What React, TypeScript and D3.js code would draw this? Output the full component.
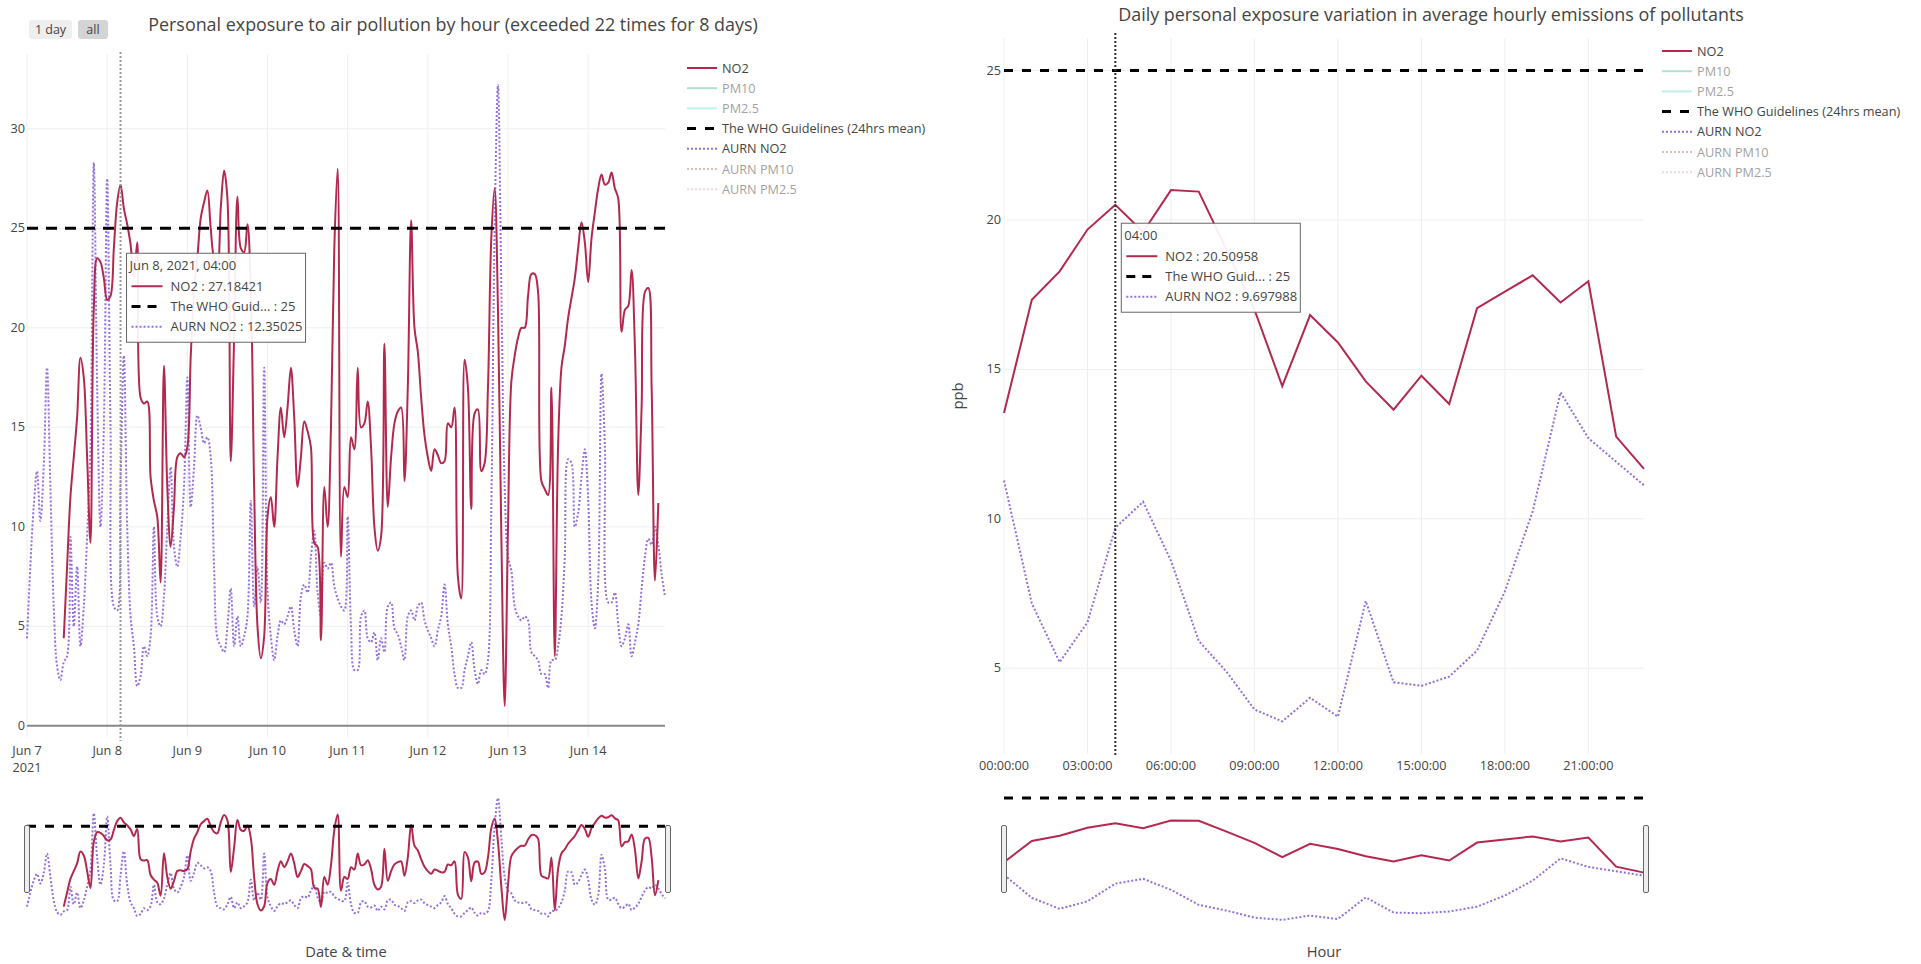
import React from 'react';
import * as d3 from 'd3';

const FONT = '"Open Sans", "DejaVu Sans", sans-serif';
const TXT = '#444';
const FS_TICK = 12.7;
const FS_LEG = 12.7;
const FS_TITLE = 17.9;
const FS_AXIS = 14.7;
const FS_HOVER = 13;

// ---------------- DATA ----------------
const startTime = new Date(2021, 5, 7, 0, 0);
const hoursLeft = d3.range(192).map((h) => d3.timeHour.offset(startTime, h));

// Personal NO2 exposure, hourly (ppb), Jun 7 00:00 .. Jun 14 23:00
const personalNO2: (number | null)[] = [
  null, null, null, null, null, null, null, null, null, null, null, 4.4,
  8.0, 11.5, 13.5, 15.5, 18.5, 17.5, 13.5, 9.2, 21.0, 23.5, 23.3, 22.5,
  21.4, 21.6, 24.0, 26.3, 27.18421, 26.0, 25.2, 24.2, 22.5, 24.3, 16.5, 16.2,
  16.3, 12.5, 11.3, 10.5, 7.2, 18.1, 12.0, 9.0, 11.0, 13.5, 13.7, 13.5,
  14.0, 18.5, 21.8, 23.5, 25.5, 26.3, 26.9, 25.0, 23.5, 23.2, 26.0, 27.9,
  26.5, 13.3, 19.5, 26.6, 24.0, 23.8, 25.2, 22.0, 12.0, 5.0, 3.4, 4.5,
  10.5, 11.5, 10.0, 13.5, 16.0, 14.5, 16.0, 18.0, 15.5, 12.0, 13.5, 15.3,
  14.8, 14.0, 9.2, 9.0, 4.3, 12.0, 10.0, 15.0, 24.0, 28.0, 8.5, 12.0,
  11.5, 14.5, 13.9, 18.0, 15.0, 15.2, 16.3, 14.0, 10.0, 8.8, 9.5, 19.2,
  11.0, 13.5, 15.2, 15.8, 16.0, 12.3, 17.0, 25.4, 20.0, 18.8, 16.5, 14.6,
  13.5, 12.8, 13.9, 13.6, 13.2, 13.3, 15.2, 15.0, 16.0, 7.5, 6.4, 18.4,
  17.0, 10.9, 15.7, 15.9, 12.8, 13.2, 17.0, 24.5, 27.0, 20.9, 9.6, 1.0,
  10.0, 17.3, 18.6, 19.5, 20.0, 20.0, 21.6, 22.7, 22.7, 21.8, 12.3, 11.9,
  11.6, 17.0, 3.5, 14.1, 18.0, 19.1, 20.5, 21.5, 22.5, 24.0, 25.3, 24.3,
  22.3, 24.5, 25.8, 27.0, 27.7, 27.2, 27.3, 27.8, 27.0, 26.5, 19.8, 20.9,
  21.1, 22.9, 19.0, 11.6, 16.0, 21.8, 22.0, 17.0, 7.3, 11.2, null, null,
];

// AURN station NO2, hourly (ppb)
const aurnNO2: (number | null)[] = [
  4.4, 8.0, 11.0, 12.8, 10.3, 13.0, 18.0, 12.0, 6.0, 3.0, 2.3, 3.2,
  3.5, 9.5, 5.0, 8.0, 4.0, 6.0, 9.5, 14.0, 28.3, 17.0, 10.0, 15.0,
  27.5, 15.0, 6.0, 5.8, 12.35025, 18.6, 10.0, 5.5, 4.0, 2.0, 2.5, 4.0,
  3.5, 4.5, 10.0, 5.5, 5.0, 6.5, 10.0, 13.0, 9.0, 8.0, 9.5, 12.0,
  17.5, 11.0, 13.0, 15.6, 15.0, 14.2, 14.5, 13.5, 8.0, 4.4, 4.0, 3.7,
  5.0, 6.9, 4.0, 5.5, 4.0, 4.5, 5.5, 11.3, 6.0, 8.0, 6.2, 18.0,
  6.8, 4.5, 3.3, 4.5, 5.3, 5.1, 5.5, 6.0, 4.8, 4.0, 6.5, 7.1,
  6.7, 8.5, 9.8, 6.7, 5.5, 8.2, 7.9, 8.2, 7.0, 6.4, 6.0, 5.8,
  10.5, 5.0, 2.8, 2.8, 5.5, 5.8, 4.4, 4.2, 4.7, 3.3, 4.4, 3.7,
  6.0, 6.2, 4.9, 4.6, 4.0, 3.3, 5.5, 5.8, 5.3, 6.0, 6.2, 5.3,
  4.8, 4.4, 4.0, 4.8, 5.5, 7.1, 5.1, 4.0, 2.6, 1.9, 1.9, 2.8,
  3.5, 4.2, 2.8, 2.1, 2.8, 2.6, 3.3, 11.0, 25.0, 32.2, 22.0, 12.0,
  8.5, 7.8, 6.0, 5.5, 5.3, 5.5, 5.3, 3.7, 3.5, 3.3, 2.6, 2.6,
  1.9, 3.3, 3.3, 4.0, 5.5, 8.5, 13.4, 13.2, 10.0, 10.7, 12.5, 13.9,
  11.4, 6.2, 4.9, 7.3, 17.7, 14.1, 6.2, 6.2, 6.7, 5.1, 4.0, 4.4,
  5.1, 3.5, 4.2, 5.1, 6.9, 8.5, 9.4, 9.1, 10.0, 9.1, 7.6, 6.5,
];

const whoGuideline = 25;

const leftDayTicks = d3.range(8).map((d) => d3.timeDay.offset(startTime, d));
const leftDayLabels = ['Jun 7', 'Jun 8', 'Jun 9', 'Jun 10', 'Jun 11', 'Jun 12', 'Jun 13', 'Jun 14'];
const leftYTicks = [0, 5, 10, 15, 20, 25, 30];

// Daily profile (average per hour of day)
const dailyHours = d3.range(24);
const dailyNO2 = [
  13.54, 17.33, 18.28, 19.68, 20.50958, 19.6, 21.0, 20.95, 19.0, 17.0, 14.44, 16.82,
  15.9, 14.6, 13.65, 14.79, 13.84, 17.05, 17.6, 18.15, 17.24, 17.95, 12.75, 11.67,
];
const dailyAurnNO2 = [
  11.28, 7.17, 5.2, 6.54, 9.697988, 10.57, 8.6, 5.91, 4.88, 3.62, 3.22, 4.01,
  3.38, 7.25, 4.53, 4.41, 4.72, 5.59, 7.57, 10.25, 14.23, 12.7, 11.91, 11.12,
];
const rightXTicks = [0, 3, 6, 9, 12, 15, 18, 21];
const rightXTickLabels = ['00:00:00', '03:00:00', '06:00:00', '09:00:00', '12:00:00', '15:00:00', '18:00:00', '21:00:00'];
const rightYTicks = [5, 10, 15, 20, 25];

const legendNames = ['NO2', 'PM10', 'PM2.5', 'The WHO Guidelines (24hrs mean)', 'AURN NO2', 'AURN PM10', 'AURN PM2.5'];
const legendColors = ['#b3294e', '#66c2a5', '#7fe5d0', '#000000', '#9370db', '#c47f7f', '#f7a8c4'];
const legendDash = ['', '', '', '9,9', '2,2', '2,2', '2,2'];
const legendVisible = [true, false, false, true, true, false, false];

const NO2_COLOR = legendColors[0];
const AURN_COLOR = legendColors[4];

// --------------- helpers ---------------
type Pt = { x: number; y: number | null };

function Legend({ x, y }: { x: number; y: number }) {
  return (
    <g>
      {legendNames.map((n, i) => {
        const yy = y + i * 20.2;
        return (
          <g key={n} opacity={legendVisible[i] ? 1 : 0.5}>
            <line x1={x + 5} x2={x + 35} y1={yy} y2={yy} stroke={legendColors[i]}
              strokeWidth={i === 3 ? 3 : 2} strokeDasharray={legendDash[i] || undefined} />
            <text x={x + 40} y={yy + 4.5} fontSize={FS_LEG} fill={TXT} fontFamily={FONT}>{n}</text>
          </g>
        );
      })}
    </g>
  );
}

function HoverBox({ x, cy, header, rows }: { x: number; cy: number; header: string; rows: { label: string; color: string; dash: string; w: number }[] }) {
  const w = 179, h = 89;
  const top = cy - h / 2;
  return (
    <g fontFamily={FONT}>
      <rect x={x} y={top} width={w} height={h} fill="rgba(255,255,255,0.92)" stroke="#666" strokeWidth={1} />
      <text x={x + 3} y={top + 17} fontSize={FS_HOVER} fill={TXT}>{header}</text>
      {rows.map((r, i) => {
        const yy = top + 33 + i * 20.3;
        return (
          <g key={i}>
            <line x1={x + 5} x2={x + 36} y1={yy} y2={yy} stroke={r.color} strokeWidth={r.w}
              strokeDasharray={r.dash || undefined} />
            <text x={x + 44} y={yy + 4.5} fontSize={FS_HOVER} fill={TXT}>{r.label}</text>
          </g>
        );
      })}
    </g>
  );
}

function Handles({ x0, x1, y0, y1 }: { x0: number; x1: number; y0: number; y1: number }) {
  const hh = (y1 - y0) / 2;
  const cy = (y0 + y1) / 2;
  return (
    <g>
      {[x0, x1].map((x, i) => (
        <rect key={i} x={x - 2.5} y={cy - hh / 2} width={5} height={hh} rx={1.5}
          fill="#eee" stroke="#666" strokeWidth={1} />
      ))}
    </g>
  );
}

// --------------- LEFT CHART ---------------
function LeftChart() {
  const pl = 27, pr = 665, pt = 54, pb = 737;
  const sy0 = 792, sy1 = 926;
  const yDom: [number, number] = [-0.56, 33.76];
  const x = d3.scaleTime().domain([hoursLeft[0], hoursLeft[191]]).range([pl, pr]);
  const y = d3.scaleLinear().domain(yDom).range([pb, pt]);
  const ys = d3.scaleLinear().domain(yDom).range([sy1, sy0]);

  const no2Pts: Pt[] = personalNO2.map((v, i) => ({ x: x(hoursLeft[i]), y: v }));
  const aurnPts: Pt[] = aurnNO2.map((v, i) => ({ x: x(hoursLeft[i]), y: v }));
  const mk = (sc: d3.ScaleLinear<number, number>) =>
    d3.line<Pt>().defined((d) => d.y != null).x((d) => d.x).y((d) => sc(d.y as number)).curve(d3.curveCatmullRom.alpha(0.5));
  const lineMain = mk(y);
  const lineSlider = mk(ys);

  const hoverIdx = 28;
  const hx = x(hoursLeft[hoverIdx]);
  const hv = [personalNO2[hoverIdx] as number, whoGuideline, aurnNO2[hoverIdx] as number];
  const hcy = y(d3.mean(hv) as number);

  return (
    <g fontFamily={FONT}>
      {/* range selector buttons */}
      <rect x={29} y={20} width={43} height={19} rx={3} fill="#eee" />
      <text x={50.5} y={34} fontSize={12.5} fill={TXT} textAnchor="middle">1 day</text>
      <rect x={78} y={20} width={30} height={19} rx={3} fill="#d4d4d4" />
      <text x={93} y={34} fontSize={12.5} fill={TXT} textAnchor="middle">all</text>

      <text x={453} y={31} fontSize={FS_TITLE} fill={TXT} textAnchor="middle">
        Personal exposure to air pollution by hour (exceeded 22 times for 8 days)
      </text>

      {/* grid */}
      {leftDayTicks.map((d, i) => (
        <line key={'vx' + i} x1={x(d)} x2={x(d)} y1={pt} y2={pb} stroke="#eee" />
      ))}
      {leftYTicks.filter((t) => t !== 0).map((t) => (
        <line key={'hy' + t} x1={pl} x2={pr} y1={y(t)} y2={y(t)} stroke="#eee" />
      ))}
      <line x1={pl} x2={pr} y1={y(0)} y2={y(0)} stroke="#888" strokeWidth={2} />

      {/* y tick labels */}
      {leftYTicks.map((t) => (
        <text key={'yl' + t} x={pl - 2} y={y(t) + 4} fontSize={FS_TICK} fill={TXT} textAnchor="end">{t}</text>
      ))}
      {/* x tick labels */}
      {leftDayTicks.map((d, i) => (
        <text key={'xl' + i} x={x(d)} y={755} fontSize={FS_TICK} fill={TXT} textAnchor="middle">{leftDayLabels[i]}</text>
      ))}
      <text x={x(leftDayTicks[0])} y={772} fontSize={FS_TICK} fill={TXT} textAnchor="middle">2021</text>

      {/* traces */}
      <path d={lineMain(aurnPts) || ''} fill="none" stroke={AURN_COLOR} strokeWidth={2} strokeDasharray="2,2" />
      <path d={lineMain(no2Pts) || ''} fill="none" stroke={NO2_COLOR} strokeWidth={2} />
      <line x1={pl} x2={pr} y1={y(whoGuideline)} y2={y(whoGuideline)} stroke="#000" strokeWidth={3} strokeDasharray="11,8" />

      {/* spike */}
      <line x1={hx} x2={hx} y1={pt - 2} y2={pb + 4} stroke="#999" strokeWidth={2} strokeDasharray="2,2" />

      <HoverBox x={hx + 6} cy={hcy} header="Jun 8, 2021, 04:00" rows={[
        { label: 'NO2 : 27.18421', color: NO2_COLOR, dash: '', w: 2 },
        { label: 'The WHO Guid... : 25', color: '#000', dash: '9,7', w: 3 },
        { label: 'AURN NO2 : 12.35025', color: AURN_COLOR, dash: '2,2', w: 2 },
      ]} />

      <Legend x={682} y={68} />

      {/* range slider */}
      <path d={lineSlider(aurnPts) || ''} fill="none" stroke={AURN_COLOR} strokeWidth={2} strokeDasharray="2,2" />
      <path d={lineSlider(no2Pts) || ''} fill="none" stroke={NO2_COLOR} strokeWidth={2} />
      <line x1={pl} x2={pr} y1={ys(whoGuideline)} y2={ys(whoGuideline)} stroke="#000" strokeWidth={3} strokeDasharray="9,9" />
      <Handles x0={pl} x1={pr + 3} y0={sy0} y1={sy1} />

      <text x={(pl + pr) / 2} y={957} fontSize={FS_AXIS} fill={TXT} textAnchor="middle">Date &amp; time</text>
    </g>
  );
}

// --------------- RIGHT CHART ---------------
function RightChart() {
  const pl = 1004, pr = 1644, pt = 38, pb = 754;
  const sy0 = 792, sy1 = 926;
  const yDom: [number, number] = [2.13, 26.09];
  const x = d3.scaleLinear().domain([0, 23]).range([pl, pr]);
  const y = d3.scaleLinear().domain(yDom).range([pb, pt]);
  const ys = d3.scaleLinear().domain(yDom).range([sy1, sy0]);

  const no2Pts: Pt[] = dailyNO2.map((v, i) => ({ x: x(dailyHours[i]), y: v }));
  const aurnPts: Pt[] = dailyAurnNO2.map((v, i) => ({ x: x(dailyHours[i]), y: v }));
  const mk = (sc: d3.ScaleLinear<number, number>) =>
    d3.line<Pt>().x((d) => d.x).y((d) => sc(d.y as number));
  const lineMain = mk(y);
  const lineSlider = mk(ys);

  const hoverIdx = 4;
  const hx = x(dailyHours[hoverIdx]);
  const hv = [dailyNO2[hoverIdx], whoGuideline, dailyAurnNO2[hoverIdx]];
  const hcy = y(d3.mean(hv) as number);

  return (
    <g fontFamily={FONT}>
      <text x={1431} y={21} fontSize={FS_TITLE} fill={TXT} textAnchor="middle">
        Daily personal exposure variation in average hourly emissions of pollutants
      </text>

      {rightXTicks.map((t) => (
        <line key={'vx' + t} x1={x(t)} x2={x(t)} y1={pt} y2={pb} stroke="#eee" />
      ))}
      {rightYTicks.map((t) => (
        <line key={'hy' + t} x1={pl} x2={pr} y1={y(t)} y2={y(t)} stroke="#eee" />
      ))}

      {rightYTicks.map((t) => (
        <text key={'yl' + t} x={pl - 3} y={y(t) + 4} fontSize={FS_TICK} fill={TXT} textAnchor="end">{t}</text>
      ))}
      {rightXTicks.map((t, i) => (
        <text key={'xl' + t} x={x(t)} y={770} fontSize={FS_TICK} fill={TXT} textAnchor="middle">{rightXTickLabels[i]}</text>
      ))}
      <text transform={`translate(963,${(pt + pb) / 2}) rotate(-90)`} fontSize={FS_AXIS} fill={TXT} textAnchor="middle">ppb</text>

      <path d={lineMain(aurnPts) || ''} fill="none" stroke={AURN_COLOR} strokeWidth={2} strokeDasharray="2,2" />
      <path d={lineMain(no2Pts) || ''} fill="none" stroke={NO2_COLOR} strokeWidth={2} />
      <line x1={pl} x2={pr} y1={y(whoGuideline)} y2={y(whoGuideline)} stroke="#000" strokeWidth={3} strokeDasharray="9,9" />

      <line x1={hx} x2={hx} y1={pt - 5} y2={pb + 2} stroke="#333" strokeWidth={2} strokeDasharray="2,2" />

      <HoverBox x={hx + 6} cy={hcy} header="04:00" rows={[
        { label: 'NO2 : 20.50958', color: NO2_COLOR, dash: '', w: 2 },
        { label: 'The WHO Guid... : 25', color: '#000', dash: '9,7', w: 3 },
        { label: 'AURN NO2 : 9.697988', color: AURN_COLOR, dash: '2,2', w: 2 },
      ]} />

      <Legend x={1657} y={51} />

      <path d={lineSlider(aurnPts) || ''} fill="none" stroke={AURN_COLOR} strokeWidth={2} strokeDasharray="2,2" />
      <path d={lineSlider(no2Pts) || ''} fill="none" stroke={NO2_COLOR} strokeWidth={2} />
      <line x1={pl} x2={pr} y1={ys(whoGuideline)} y2={ys(whoGuideline)} stroke="#000" strokeWidth={3} strokeDasharray="9,9" />
      <Handles x0={pl} x1={pr + 2} y0={sy0} y1={sy1} />

      <text x={(pl + pr) / 2} y={957} fontSize={FS_AXIS} fill={TXT} textAnchor="middle">Hour</text>
    </g>
  );
}

export default function App() {
  return (
    <svg width={1921} height={964} style={{ position: 'absolute', left: 0, top: 0, background: '#fff' }}>
      <rect x={0} y={0} width={1921} height={964} fill="#fff" />
      <LeftChart />
      <RightChart />
    </svg>
  );
}
